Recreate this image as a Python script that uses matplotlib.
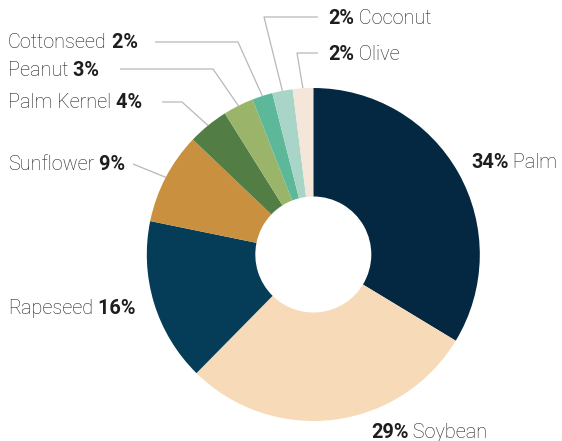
import numpy as np
import matplotlib
matplotlib.use("Agg")
import matplotlib.pyplot as plt

# ---- data ----
categories = ["Palm", "Soybean", "Rapeseed", "Sunflower", "Palm Kernel",
              "Peanut", "Cottonseed", "Coconut", "Olive"]
shares = [34, 29, 16, 9, 4, 3, 2, 2, 2]
colors = ["#052842", "#f7dbb8", "#053c57", "#c8903f", "#527d45",
          "#9ab56a", "#5db89a", "#a8d5c7", "#f4e6d9"]

W, H = 562, 441
fig = plt.figure(figsize=(W / 100, H / 100), dpi=100)
ax = fig.add_axes([0, 0, 1, 1])

def Y(y):
    return H - y

cx, cy = 313.3, 254.5
R, r_in = 166.5, 58.0

wedges, _ = ax.pie(shares, colors=colors, startangle=90, counterclock=False,
                   radius=R, center=(cx, Y(cy)),
                   wedgeprops=dict(width=R - r_in, linewidth=0))
ax.set_xlim(0, W)
ax.set_ylim(0, H)
ax.set_aspect("equal")
ax.axis("off")

FONT = ["Roboto", "DejaVu Sans"]
FS = 14.3
TC = "#1e1e1e"
LC = "#b8b8b8"

# label layout: (side, x, y, line points before anchor)
layout = {
    "Palm": ("right", 471, 162, None),
    "Soybean": ("right", 371, 432, None),
    "Rapeseed": ("left", 8, 308, None),
    "Sunflower": ("left", 8, 164, [(133, 164)]),
    "Palm Kernel": ("left", 8, 103, [(162, 102), (182, 102)]),
    "Peanut": ("left", 8, 71, [(120, 69), (213, 69)]),
    "Cottonseed": ("left", 8, 43, [(155, 42), (238, 42)]),
    "Coconut": ("right", 328, 19, [(318, 17), (264, 17)]),
    "Olive": ("right", 328, 54, [(318, 53), (297, 53)]),
}

for w, cat, val in zip(wedges, categories, shares):
    side, tx, ty, pts = layout[cat]
    pct = f"{val}%"
    if side == "left":
        first, fw1, second, fw2 = cat, "light", " " + pct, "bold"
    else:
        first, fw1, second, fw2 = pct, "bold", " " + cat, "light"
    t1 = ax.text(tx, Y(ty), first, fontsize=FS, family=FONT, weight=fw1,
                 color=TC, ha="left", va="center")
    ax.annotate(second, xy=(1, 0), xycoords=t1, fontsize=FS, family=FONT,
                weight=fw2, color=TC, ha="left", va="bottom")
    if pts:
        ang = np.deg2rad((w.theta1 + w.theta2) / 2)
        ax_, ay_ = cx + R * np.cos(ang), Y(cy) + R * np.sin(ang)
        xs = [p[0] for p in pts] + [ax_]
        ys = [Y(p[1]) for p in pts] + [ay_]
        ax.plot(xs, ys, color=LC, lw=0.9, solid_capstyle="butt", zorder=0)

fig.savefig("out.png", dpi=100)
